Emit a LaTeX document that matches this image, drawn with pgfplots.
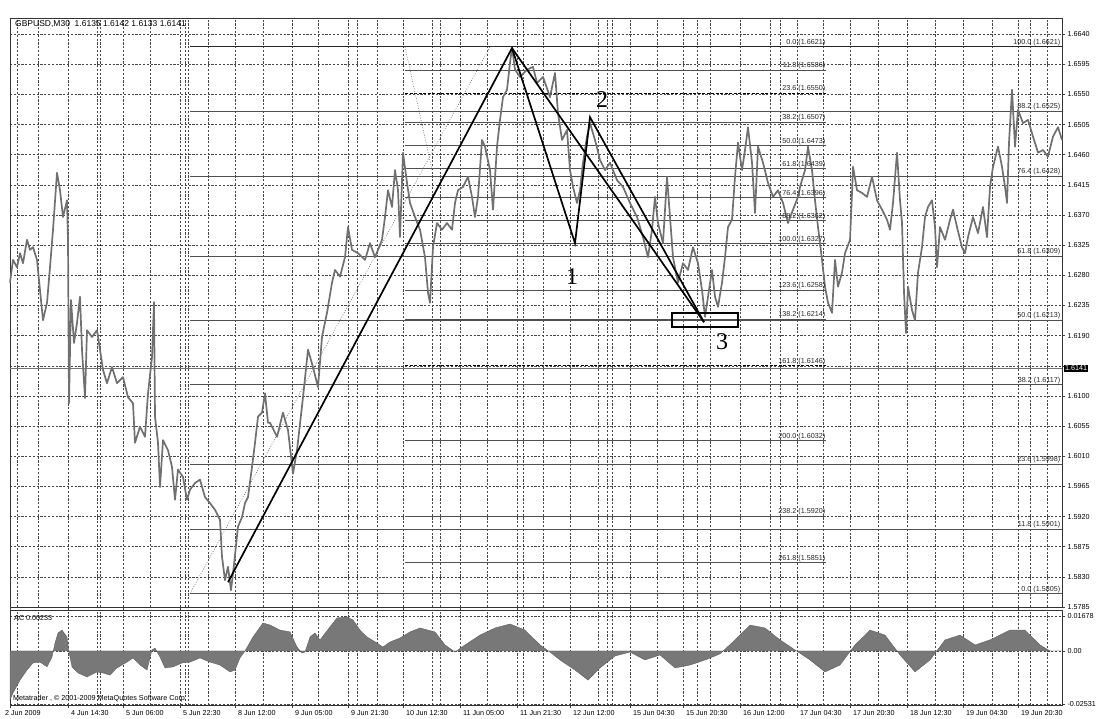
\documentclass[border=0pt]{standalone}
\usepackage{fontspec}
\setmainfont{Liberation Sans}
\newfontfamily\numfont{Liberation Serif}
\usepackage{pgfplots}
\pgfplotsset{compat=1.18}
\definecolor{pricegray}{RGB}{112,112,112}
\definecolor{fibgray}{RGB}{80,80,80}
\definecolor{histgray}{RGB}{120,120,120}
\newcommand\fs{\fontsize{7.2}{8}\selectfont}
\pgfplotsset{
  mtgrid/.style={
    xtick={17,38,68,97,100,123,150,180,185,188,208,235,263,292,318,348,357,377,403,432,440,460,487,517,523,543,570,598,607,612,630,657,683,697,710,740,770,780,797,823,850,878,907,935,963,992,1018,1030,1047},
    xticklabels={}, xmajorgrids, ymajorgrids,
    xtick style={draw=none},
    scaled ticks=false,
    grid style={dash pattern=on 2.2pt off 1.6pt, black!72, line width=0.5pt},
    axis line style={black!80, line width=0.7pt},
    ytick pos=right, yticklabel pos=right,
    ytick style={black!75, line width=0.5pt},
    tick align=outside, major tick length=3pt,
    yticklabel style={font=\fs, anchor=west, xshift=-1pt},
    scale only axis, clip=false, width=1052pt,
    xmin=10, xmax=1062,
  },
  fibB/.style={fibgray, line width=0.7pt},
  fibA/.style={fibgray, line width=0.7pt},
  fibAd/.style={black, line width=0.8pt, dash pattern=on 3pt off 1.5pt},
}
\begin{document}
\begin{tikzpicture}[x=1pt,y=1pt]
\path[use as bounding box] (0,0) rectangle (1097,719);
% ---------------- price panel
\begin{axis}[mtgrid,
  at={(10pt,112pt)}, anchor=south west, height=589pt,
  ymin=1.5785, ymax=1.6664,
  ytick={1.5785,1.5830,1.5875,1.5920,1.5965,1.6010,1.6055,1.6100,1.6145,1.6190,1.6235,1.6280,1.6325,1.6370,1.6415,1.6460,1.6505,1.6550,1.6595,1.6640},
  yticklabels={1.5785,1.5830,1.5875,1.5920,1.5965,1.6010,1.6055,1.6100,{},1.6190,1.6235,1.6280,1.6325,1.6370,1.6415,1.6460,1.6505,1.6550,1.6595,1.6640},
]
% Fibonacci retracement (set B), 190 -> right edge
\addplot[fibB] coordinates {(190,1.5805)(1062,1.5805)};
\addplot[fibB] coordinates {(190,1.5901)(1062,1.5901)};
\addplot[fibB] coordinates {(190,1.5998)(1062,1.5998)};
\addplot[fibB] coordinates {(190,1.6117)(1062,1.6117)};
\addplot[fibB] coordinates {(190,1.6213)(1062,1.6213)};
\addplot[fibB] coordinates {(190,1.6309)(1062,1.6309)};
\addplot[fibB] coordinates {(190,1.6428)(1062,1.6428)};
\addplot[fibB] coordinates {(190,1.6525)(1062,1.6525)};
\addplot[black!85, line width=1pt] coordinates {(190,1.6621)(1062,1.6621)};
% Fibonacci expansion (set A), 405 -> 826
\addplot[fibA] coordinates {(405,1.6586)(826,1.6586)};
\addplot[fibAd] coordinates {(405,1.6552)(826,1.6552)};
\addplot[fibA] coordinates {(405,1.6509)(826,1.6509)};
\addplot[fibA] coordinates {(405,1.6474)(826,1.6474)};
\addplot[fibA] coordinates {(405,1.6439)(826,1.6439)};
\addplot[fibA] coordinates {(405,1.6396)(826,1.6396)};
\addplot[fibA] coordinates {(405,1.6362)(826,1.6362)};
\addplot[fibA] coordinates {(405,1.6327)(826,1.6327)};
\addplot[fibA] coordinates {(405,1.6258)(826,1.6258)};
\addplot[fibA] coordinates {(405,1.6215)(826,1.6215)};
\addplot[fibAd] coordinates {(405,1.6145)(826,1.6145)};
\addplot[fibA] coordinates {(405,1.6033)(826,1.6033)};
\addplot[fibA] coordinates {(405,1.5921)(826,1.5921)};
\addplot[fibA] coordinates {(405,1.5851)(826,1.5851)};
% bid line
\addplot[black!55, line width=0.8pt] coordinates {(10,1.6141)(1062,1.6141)};
% dotted tool lines
\addplot[black!60, line width=0.5pt, dash pattern=on 1pt off 1.5pt] coordinates {(190,1.5805)(490,1.6621)};
\addplot[black!60, line width=0.5pt, dash pattern=on 1pt off 1.5pt] coordinates {(405,1.6621)(432,1.6437)};
% price
\addplot[pricegray, line width=1.7pt, line join=round] coordinates {
(10,1.6269)(13,1.6303)(17,1.6292)(20,1.6313)(23,1.6298)(27,1.6333)(30,1.6318)(33,1.6322)(37,1.6303)(40,1.6258)(43,1.6213)(47,1.6239)(50,1.6292)(53,1.6348)(57,1.6433)(60,1.6407)(63,1.6367)(67,1.6392)(68,1.6333)(69,1.6089)(71,1.6243)(74,1.6179)(77,1.6209)(80,1.6248)(82,1.6169)(85,1.6097)(87,1.6198)(92,1.6188)(97,1.6198)(100,1.6169)(103,1.6139)(107,1.6119)(112,1.6143)(117,1.6119)(123,1.6128)(128,1.6098)(133,1.6089)(135,1.6030)(140,1.6054)(145,1.6039)(148,1.6104)(152,1.6158)(154,1.6240)(155,1.6069)(158,1.6030)(160,1.5964)(163,1.6034)(168,1.6019)(172,1.5994)(175,1.5945)(178,1.5990)(183,1.5979)(187,1.5945)(190,1.5960)(195,1.5970)(200,1.5975)(205,1.5949)(210,1.5940)(215,1.5930)(220,1.5915)(222,1.5860)(225,1.5825)(228,1.5845)(231,1.5810)(234,1.5848)(238,1.5905)(242,1.5919)(245,1.5940)(248,1.5949)(252,1.5994)(255,1.6030)(258,1.6069)(262,1.6075)(265,1.6104)(268,1.6060)(270,1.6060)(277,1.6039)(283,1.6075)(288,1.6049)(293,1.5984)(297,1.6019)(303,1.6098)(308,1.6169)(313,1.6143)(318,1.6113)(322,1.6188)(327,1.6224)(332,1.6269)(335,1.6288)(340,1.6278)(345,1.6307)(348,1.6352)(352,1.6318)(358,1.6313)(365,1.6303)(370,1.6328)(375,1.6307)(382,1.6333)(385,1.6367)(388,1.6407)(392,1.6382)(395,1.6437)(398,1.6407)(400,1.6337)(403,1.6463)(407,1.6418)(410,1.6388)(415,1.6367)(420,1.6348)(425,1.6307)(428,1.6254)(430,1.6239)(433,1.6322)(437,1.6358)(442,1.6348)(447,1.6358)(452,1.6348)(455,1.6388)(458,1.6407)(463,1.6412)(468,1.6427)(472,1.6397)(475,1.6367)(478,1.6397)(482,1.6482)(485,1.6472)(490,1.6437)(493,1.6378)(497,1.6472)(500,1.6512)(503,1.6546)(507,1.6557)(510,1.6597)(512,1.6620)(515,1.6587)(520,1.6576)(527,1.6587)(533,1.6591)(537,1.6567)(543,1.6576)(550,1.6546)(555,1.6582)(558,1.6522)(562,1.6482)(567,1.6497)(570,1.6437)(573,1.6412)(577,1.6388)(580,1.6407)(583,1.6448)(587,1.6487)(590,1.6507)(595,1.6482)(600,1.6452)(605,1.6437)(610,1.6448)(617,1.6422)(623,1.6412)(630,1.6388)(637,1.6367)(643,1.6337)(648,1.6307)(652,1.6348)(655,1.6397)(658,1.6358)(663,1.6328)(667,1.6427)(670,1.6367)(673,1.6307)(678,1.6269)(683,1.6298)(688,1.6288)(693,1.6322)(698,1.6298)(702,1.6258)(705,1.6218)(708,1.6248)(712,1.6288)(715,1.6248)(718,1.6233)(722,1.6269)(725,1.6307)(728,1.6352)(732,1.6363)(735,1.6427)(738,1.6478)(742,1.6437)(745,1.6467)(748,1.6501)(752,1.6448)(755,1.6373)(758,1.6472)(763,1.6448)(768,1.6418)(773,1.6397)(778,1.6407)(783,1.6388)(788,1.6358)(793,1.6378)(798,1.6397)(800,1.6412)(805,1.6437)(808,1.6472)(812,1.6437)(815,1.6392)(818,1.6352)(822,1.6303)(825,1.6263)(828,1.6239)(832,1.6224)(835,1.6303)(838,1.6263)(842,1.6284)(845,1.6313)(850,1.6333)(852,1.6403)(853,1.6442)(857,1.6407)(862,1.6403)(867,1.6397)(872,1.6427)(877,1.6392)(882,1.6378)(887,1.6363)(890,1.6348)(893,1.6388)(897,1.6463)(900,1.6392)(902,1.6358)(904,1.6254)(906,1.6194)(908,1.6263)(912,1.6228)(915,1.6213)(918,1.6284)(922,1.6322)(925,1.6367)(928,1.6382)(932,1.6392)(935,1.6352)(937,1.6292)(940,1.6352)(945,1.6333)(950,1.6363)(953,1.6378)(957,1.6352)(962,1.6322)(965,1.6313)(968,1.6337)(973,1.6367)(978,1.6343)(983,1.6382)(987,1.6337)(990,1.6412)(993,1.6442)(998,1.6472)(1002,1.6442)(1005,1.6412)(1007,1.6388)(1009,1.6478)(1012,1.6557)(1015,1.6472)(1018,1.6527)(1023,1.6507)(1028,1.6512)(1033,1.6487)(1038,1.6463)(1043,1.6467)(1048,1.6457)(1053,1.6487)(1058,1.6501)(1062,1.6482)};
% wave lines
\addplot[black, line width=1.7pt, line join=miter] coordinates {(228,1.5822)(512,1.6619)(575,1.6328)(590,1.6516)(704,1.6210)};
\addplot[black, line width=1.7pt] coordinates {(512,1.6619)(704,1.6210)};
\addplot[black, line width=1.3pt] coordinates {(672,1.62237)(738,1.62237)(738,1.62028)(672,1.62028)} -- cycle;
% wave numbers
\node[font=\numfont\fontsize{24}{24}\selectfont] at (axis cs:572,1.62774) {1};
\node[font=\numfont\fontsize{24}{24}\selectfont] at (axis cs:602,1.65416) {2};
\node[font=\numfont\fontsize{24}{24}\selectfont] at (axis cs:722,1.61804) {3};
% fib labels set A
\begin{scope}[every node/.style={anchor=south east, inner sep=0.6pt, font=\fs, text=black!85}]
\node at (axis cs:826,1.6621) {0.0 (1.6621)};
\node at (axis cs:826,1.6586) {11.8 (1.6586)};
\node at (axis cs:826,1.6552) {23.6 (1.6550)};
\node at (axis cs:826,1.6509) {38.2 (1.6507)};
\node at (axis cs:826,1.6474) {50.0 (1.6473)};
\node at (axis cs:826,1.6439) {61.8 (1.6439)};
\node at (axis cs:826,1.6396) {76.4 (1.6396)};
\node at (axis cs:826,1.6362) {88.2 (1.6362)};
\node at (axis cs:826,1.6327) {100.0 (1.6327)};
\node at (axis cs:826,1.6258) {123.6 (1.6258)};
\node at (axis cs:826,1.6215) {138.2 (1.6214)};
\node at (axis cs:826,1.6145) {161.8 (1.6146)};
\node at (axis cs:826,1.6033) {200.0 (1.6032)};
\node at (axis cs:826,1.5921) {238.2 (1.5920)};
\node at (axis cs:826,1.5851) {261.8 (1.5851)};
% set B
\node at (axis cs:1061,1.6621) {100.0 (1.6621)};
\node at (axis cs:1061,1.6525) {88.2 (1.6525)};
\node at (axis cs:1061,1.6428) {76.4 (1.6428)};
\node at (axis cs:1061,1.6309) {61.8 (1.6309)};
\node at (axis cs:1061,1.6213) {50.0 (1.6213)};
\node at (axis cs:1061,1.6117) {38.2 (1.6117)};
\node at (axis cs:1061,1.5998) {23.6 (1.5998)};
\node at (axis cs:1061,1.5901) {11.8 (1.5901)};
\node at (axis cs:1061,1.5805) {0.0 (1.5805)};
\end{scope}
% current price box
\node[anchor=west, fill=black, text=white, inner sep=1pt, font=\fs, xshift=2pt] at (axis cs:1062,1.6141) {1.6141};
% title
\node[anchor=north west, font=\fontsize{8.5}{9}\selectfont, inner sep=0pt] at (rel axis cs:0,1) [xshift=5pt, yshift=-2.5pt] {GBPUSD,M30\ \ 1.6135\ 1.6142\ 1.6133\ 1.6141};
\end{axis}
% ---------------- AC panel
\begin{axis}[mtgrid,
  at={(10pt,14pt)}, anchor=south west, height=95pt,
  ymin=-0.02579, ymax=0.01958,
  ytick={-0.02531,0,0.01678},
  yticklabels={-0.02531,0.00,0.01678},
  extra x ticks={10,68,123,180,235,292,348,403,460,517,570,630,683,740,797,850,907,963,1018},
  extra x tick labels={\hspace*{-8pt}2 Jun 2009,4 Jun 14:30,5 Jun 06:00,5 Jun 22:30,8 Jun 12:00,9 Jun 05:00,9 Jun 21:30,10 Jun 12:30,11 Jun 05:00,11 Jun 21:30,12 Jun 12:00,15 Jun 04:30,15 Jun 20:30,16 Jun 12:00,17 Jun 04:30,17 Jun 20:30,18 Jun 12:30,19 Jun 04:30,19 Jun 20:30},
  extra x tick style={grid=none, xtick style={draw=black!75, line width=0.5pt},
     xticklabel style={anchor=north west, font=\fs, xshift=-0.5pt, yshift=1pt}},
]
\addplot[fill=histgray, draw=histgray!70!black, line width=0.3pt] coordinates {
(10,0)(10,-0.0234)(13,-0.0201)(20,-0.0139)(27,-0.0091)(33,-0.0057)(40,-0.0053)(47,-0.0076)(52,-0.0029)(55,0.0038)(58,0.0086)(62,0.0100)(67,0.0067)(69,-0.0005)(72,-0.0076)(78,-0.0105)(87,-0.0124)(97,-0.0100)(103,-0.0105)(110,-0.0115)(117,-0.0081)(127,-0.0053)(133,-0.0033)(140,-0.0067)(147,-0.0091)(152,0.0005)(155,0.0014)(160,-0.0029)(165,-0.0081)(173,-0.0076)(182,-0.0057)(190,-0.0053)(200,-0.0033)(210,-0.0053)(220,-0.0067)(230,-0.0100)(235,-0.0091)(240,-0.0033)(245,0)(253,0.0067)(263,0.0134)(270,0.0124)(280,0.0100)(290,0.0091)(297,0.0019)(302,-0.0010)(305,-0.0005)(310,0.0067)(315,0.0086)(320,0.0053)(330,0.0115)(337,0.0158)(347,0.0163)(353,0.0148)(360,0.0100)(367,0.0067)(377,0.0038)(383,0.0019)(390,0.0043)(400,0.0062)(410,0.0091)(420,0.0110)(435,0.0091)(445,0.0029)(455,-0.0005)(465,0.0029)(480,0.0076)(495,0.0110)(510,0.0129)(525,0.0100)(540,0.0029)(550,-0.0005)(560,-0.0043)(575,-0.0091)(588,-0.0139)(600,-0.0081)(615,-0.0024)(630,-0.0005)(645,-0.0043)(660,-0.0019)(675,-0.0081)(690,-0.0067)(705,-0.0043)(720,-0.0014)(735,0.0053)(750,0.0124)(765,0.0110)(780,0.0053)(795,0.0005)(810,-0.0043)(825,-0.0100)(840,-0.0067)(855,0.0029)(870,0.0100)(885,0.0076)(900,-0.0019)(915,-0.0100)(930,-0.0043)(945,0.0053)(960,0.0076)(975,0.0029)(990,0.0053)(1010,0.0100)(1025,0.0100)(1040,0.0029)(1050,0)(1062,0)} -- cycle;
\node[anchor=north west, font=\fs, inner sep=0pt] at (rel axis cs:0,1) [xshift=4pt, yshift=-5pt] {AC 0.00233};
\node[anchor=south west, font=\fs, inner sep=0pt] at (rel axis cs:0,0) [xshift=3pt, yshift=3pt] {Metatrader , \textcopyright{} 2001-2009 MetaQuotes Software Corp.};
\end{axis}
\end{tikzpicture}
\end{document}
